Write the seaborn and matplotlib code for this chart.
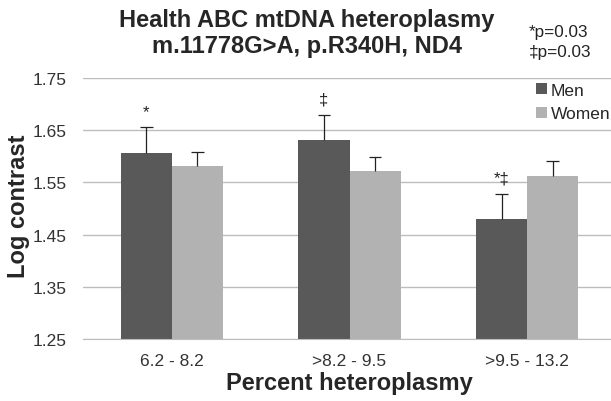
import pandas as pd
import seaborn as sns
import matplotlib
import matplotlib.pyplot as plt

matplotlib.use("Agg")

# Data
CATEGORIES = ["6.2 - 8.2", ">8.2 - 9.5", ">9.5 - 13.2"]
MEN = [1.605, 1.630, 1.479]
WOMEN = [1.581, 1.572, 1.562]
MEN_ERR = [0.050, 0.049, 0.048]
WOMEN_ERR = [0.026, 0.026, 0.028]
MEN_MARKS = ["*", "\u2021", "*\u2021"]
YTICKS = [1.25, 1.35, 1.45, 1.55, 1.65, 1.75]

sns.set_style("white")
plt.rcParams["font.family"] = ["Liberation Sans", "DejaVu Sans"]

df = pd.DataFrame({
    "Category": CATEGORIES * 2,
    "Value": MEN + WOMEN,
    "Sex": ["Men"] * 3 + ["Women"] * 3,
})
colors = {"Men": "#595959", "Women": "#b2b2b2"}

fig = plt.figure(figsize=(6.11, 4.02), dpi=100)
ax = fig.add_axes([83 / 611, 1 - 340.3 / 402, 533 / 611, (340.3 - 78.5) / 402])

sns.barplot(data=df, x="Category", y="Value", hue="Sex", palette=colors,
            width=0.575, errorbar=None, linewidth=0, saturation=1, ax=ax, zorder=2)

# upper-only error bars (stem + top cap) and significance marks
errs = {"Men": MEN_ERR, "Women": WOMEN_ERR}
vals = {"Men": MEN, "Women": WOMEN}
cap = 0.035
for cont, sex in zip(ax.containers, ["Men", "Women"]):
    xs = [b.get_x() + b.get_width() / 2 for b in cont]
    tops = [v + e for v, e in zip(vals[sex], errs[sex])]
    ax.vlines(xs, vals[sex], tops, color="#222222", linewidth=0.9, zorder=3)
    ax.hlines(tops, [x - cap for x in xs], [x + cap for x in xs],
              color="#222222", linewidth=0.9, zorder=3)
    if sex == "Men":
        for x, t, m in zip(xs, tops, MEN_MARKS):
            ax.text(x, t + 0.016, m, ha="center", va="bottom", fontsize=12, color="#222222")

ax.set_xlim(-0.5, 2.5)
ax.set_ylim(1.25, 1.75)
ax.set_yticks(YTICKS)
ax.set_yticklabels([f"{t:.2f}" for t in YTICKS], fontsize=12.5, color="#333333")
ax.tick_params(axis="x", labelsize=12.5, colors="#333333", length=0, pad=10)
ax.tick_params(axis="y", length=0, pad=12)
ax.yaxis.grid(True, color="#bdbdbd", linewidth=1)
ax.set_axisbelow(True)
for s in ["top", "right", "left"]:
    ax.spines[s].set_visible(False)
ax.spines["bottom"].set_color("#bdbdbd")

ax.set_xlabel("Percent heteroplasmy", fontsize=17, fontweight="bold", labelpad=2)
ax.set_ylabel("Log contrast", fontsize=17, fontweight="bold", va="center")
ax.yaxis.set_label_coords((19 - 83) / 533, (340.3 - 206) / 261.8)

ax.legend(loc="upper left", bbox_to_anchor=(448 / 533, 1.0), frameon=False, fontsize=12.5,
          handlelength=0.6, handleheight=0.6, handletextpad=0.25, labelspacing=0.5,
          borderaxespad=0.1, borderpad=0.2)

fig.text(307 / 611, 1 - 21 / 402, "Health ABC mtDNA heteroplasmy",
         ha="center", va="center", fontsize=17, fontweight="bold")
fig.text(307 / 611, 1 - 46 / 402, "m.11778G>A, p.R340H, ND4",
         ha="center", va="center", fontsize=17, fontweight="bold")
fig.text(529 / 611, 1 - 32 / 402, "*p=0.03", ha="left", va="center", fontsize=12.3,
         color="#222222")
fig.text(529 / 611, 1 - 53 / 402, "\u2021p=0.03", ha="left", va="center", fontsize=12.3,
         color="#222222")

fig.savefig("out.png", dpi=100)
plt.close(fig)
